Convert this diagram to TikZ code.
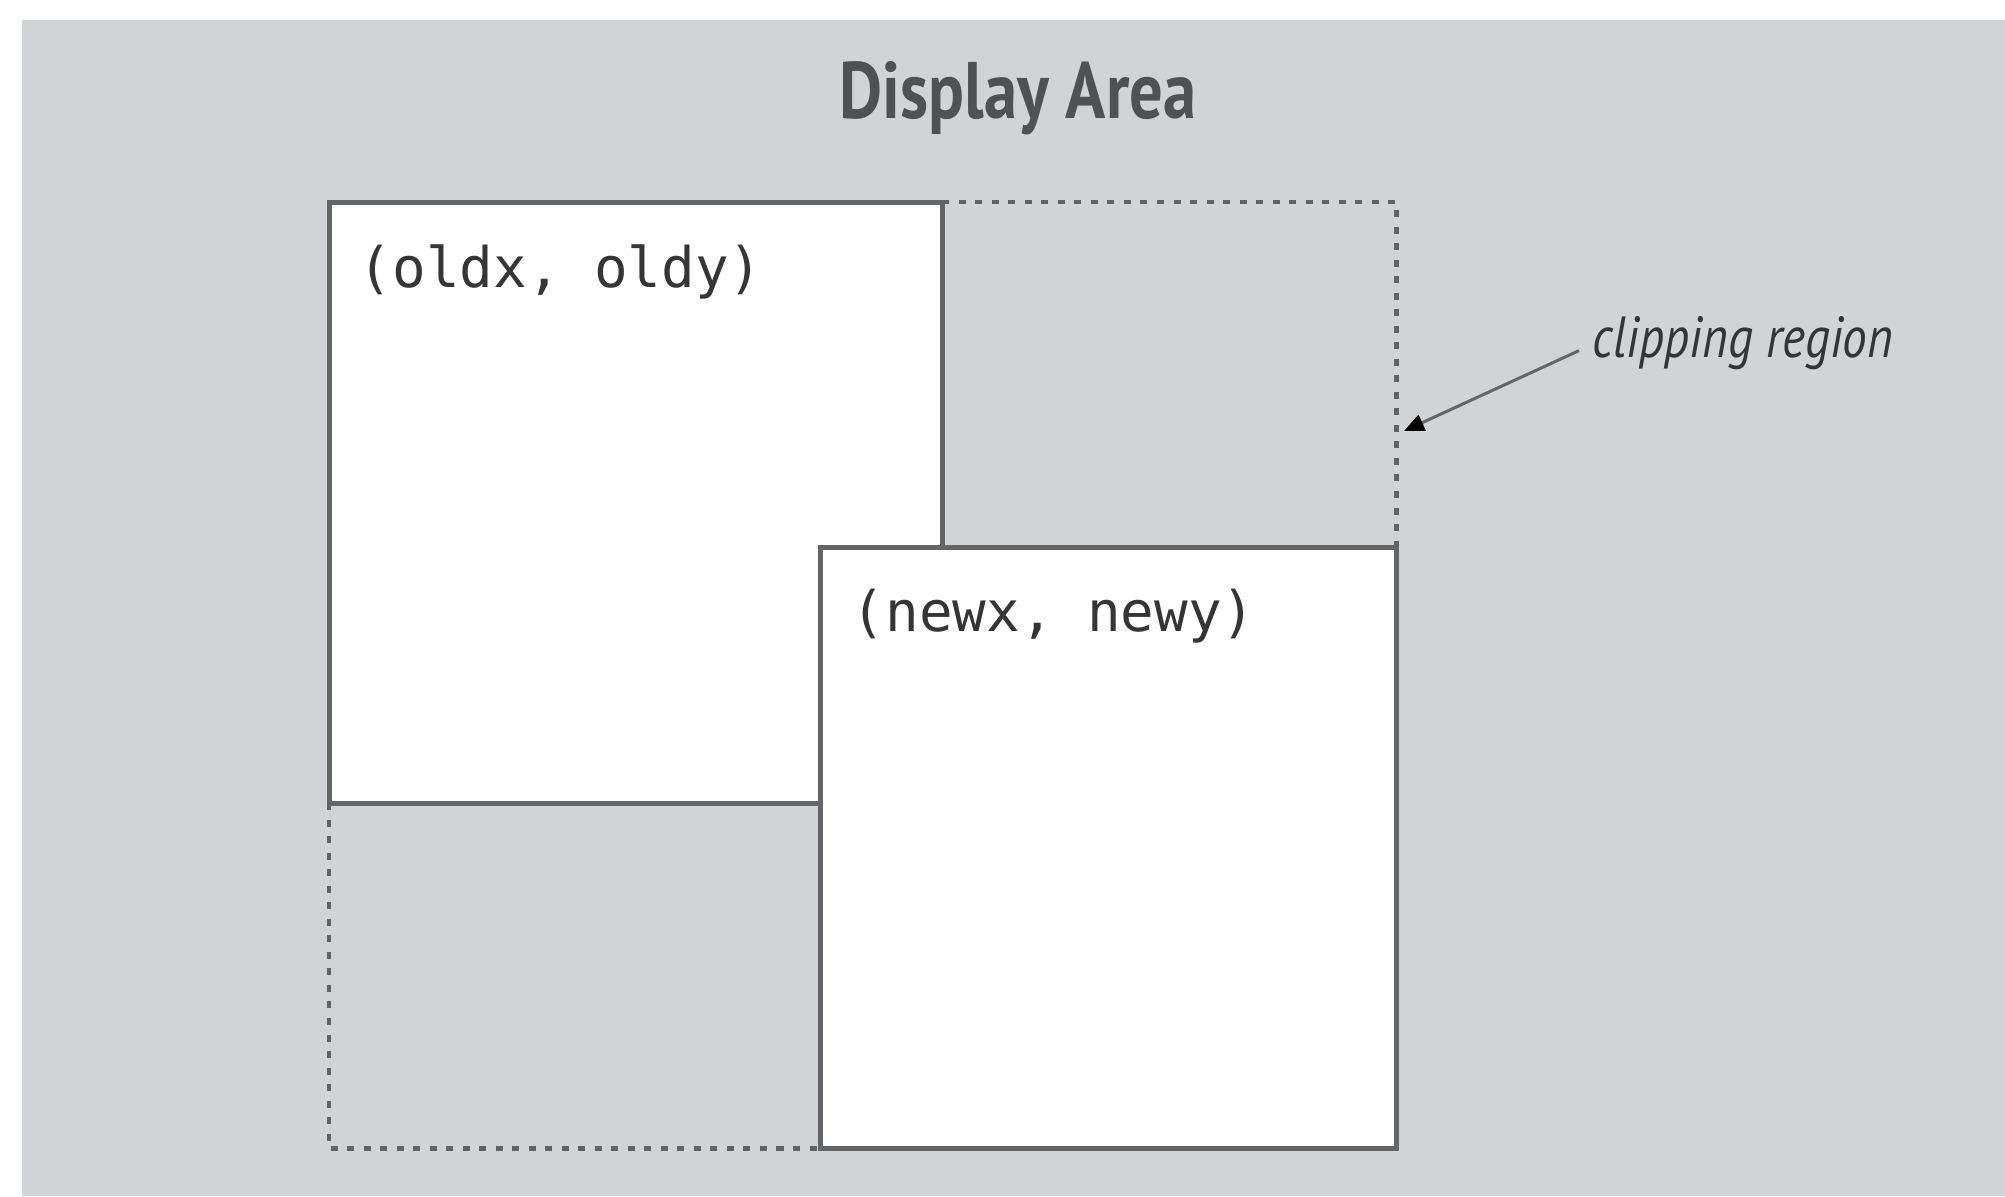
\documentclass[tikz,border=0pt]{standalone}
\usepackage{fontspec}
\usetikzlibrary{arrows.meta}
\newfontfamily\titlefont[FakeStretch=0.83]{PT Sans}
\newfontfamily\clipfont[FakeStretch=0.85]{PT Sans}
\newfontfamily\codefont{DejaVu Sans Mono}
\definecolor{bggray}{HTML}{D2D3D5}
\definecolor{boxline}{HTML}{646567}
\definecolor{txtgray}{HTML}{353535}
\definecolor{titlegray}{HTML}{505153}
\definecolor{dotgray}{HTML}{626262}
\tikzset{
  box/.style={draw=boxline, fill=white, line width=0.05cm, inner sep=0pt, outer sep=0pt, anchor=north west},
  codelabel/.style={inner sep=0pt, anchor=west, text=txtgray, font=\codefont\fontsize{15.9pt}{18pt}\selectfont},
  clipline/.style={draw=dotgray, line width=0.045cm, dash pattern=on 0.07cm off 0.095cm},
  cliplabel/.style={inner sep=0pt, text=txtgray, font=\clipfont\itshape\fontsize{16.5pt}{19pt}\selectfont},
  pointer/.style={draw=gray!80!black, line width=0.03cm, -{Triangle[length=0.2cm,width=0.17cm,black]}},
  titlelabel/.style={inner sep=0pt, text=titlegray, font=\titlefont\bfseries\fontsize{22.8pt}{26pt}\selectfont}
}
\begin{document}
\begin{tikzpicture}[x=0.01cm, y=-0.01cm]
  \useasboundingbox (0,0) rectangle (2005,1196);
  \fill[white] (0,0) rectangle (2005,1196);
  \fill[bggray] (22,20) rectangle (2005,1196);
  \node[titlelabel, anchor=base] (title) at (1018,118) {Display Area};
  \node[box, minimum width=6.13cm, minimum height=6.01cm] (old) at (329,202) {};
  \node[box, minimum width=5.76cm, minimum height=6.01cm] (new) at (820,547) {};
  \node[codelabel] (oldlbl) at (358,272) {(oldx, oldy)};
  \node[codelabel] (newlbl) at (851,616) {(newx, newy)};
  \coordinate (ctr) at (new.east |- old.north);
  \coordinate (cbl) at (old.west |- new.south);
  \draw[clipline] (old.north east) -- (ctr) -- (new.north east);
  \draw[clipline] (old.south west) -- (cbl) -- (new.south west);
  \node[cliplabel, anchor=base west] (clip) at (1592,357) {clipping region};
  \coordinate (tip) at (1404,431);
  \draw[pointer] ([shift={(-13,8)}]clip.west) -- (tip);
\end{tikzpicture}
\end{document}
